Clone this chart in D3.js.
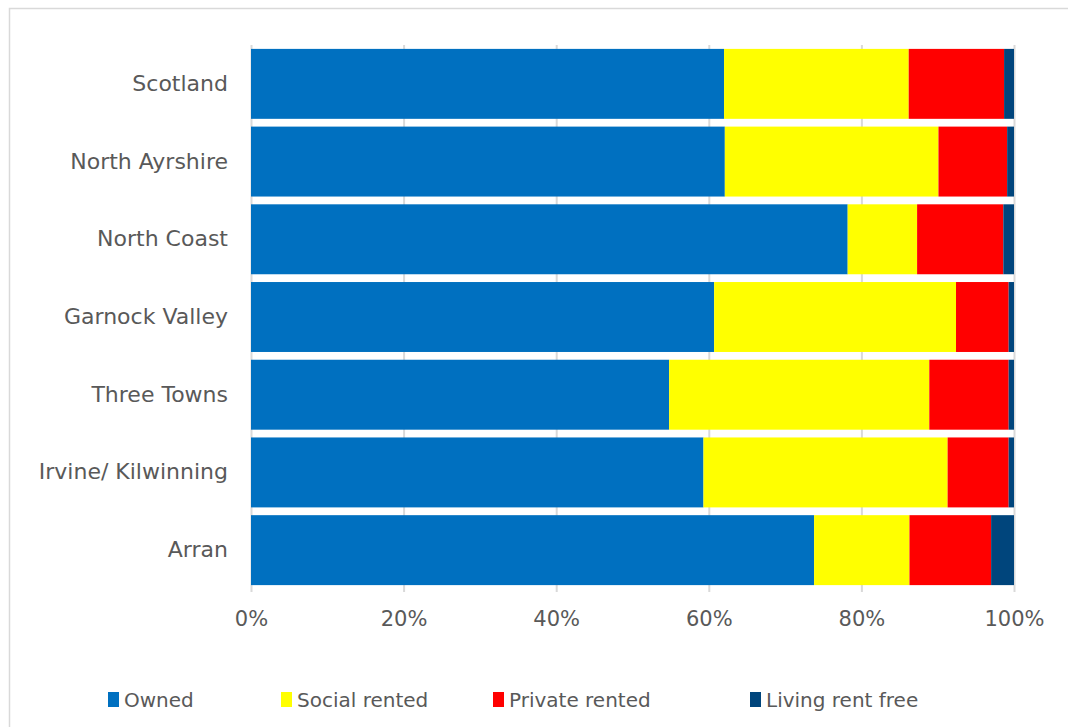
<!DOCTYPE html>
<html>
<head>
<meta charset="utf-8">
<script src="https://cdn.jsdelivr.net/npm/d3@7"></script>
<style>
  html, body { margin: 0; padding: 0; background: #fff; }
  svg { display: block; }
  text { font-family: "DejaVu Sans", sans-serif; fill: #595959; }
</style>
</head>
<body>
<svg id="chart" width="1068" height="727"></svg>
<script>
// Household tenure by area (% of households)
const areas = ["Scotland", "North Ayrshire", "North Coast", "Garnock Valley", "Three Towns", "Irvine/ Kilwinning", "Arran"];
const tenures = ["Owned", "Social rented", "Private rented", "Living rent free"];
const owned        = [62.0, 62.1, 78.2, 60.7, 54.8, 59.3, 73.8];
const socialRented = [24.2, 28.0,  9.1, 31.7, 34.1, 32.0, 12.5];
const privateRented= [12.5,  9.0, 11.3,  6.9, 10.4,  8.0, 10.7];
const rentFree     = [ 1.3,  0.9,  1.4,  0.7,  0.7,  0.7,  3.0];
const tickValues = [0, 0.2, 0.4, 0.6, 0.8, 1.0];
const colours = ["#0070C0", "#FFFF00", "#FF0000", "#00457C"];

const rows = areas.map((a, i) => {
  const vals = [owned[i], socialRented[i], privateRented[i], rentFree[i]];
  const total = d3.sum(vals);
  const r = { area: a };
  tenures.forEach((t, k) => r[t] = vals[k] / total);
  return r;
});

const svg = d3.select("#chart");

// outer chart frame
svg.append("rect")
  .attr("x", 9.5).attr("y", 8.5)
  .attr("width", 1100).attr("height", 800)
  .attr("fill", "none").attr("stroke", "#d9d9d9").attr("stroke-width", 1.5);

const plotLeft = 251, plotRight = 1014, plotTop = 45, plotBottom = 589;

const x = d3.scaleLinear().domain([0, 1]).range([plotLeft, plotRight]);
const y = d3.scaleBand().domain(areas).range([plotTop, plotBottom]).paddingInner(0.1).paddingOuter(0.05);

// vertical gridlines
svg.append("g").selectAll("line")
  .data(tickValues)
  .join("line")
  .attr("x1", d => x(d) + 0.5).attr("x2", d => x(d) + 0.5)
  .attr("y1", plotTop).attr("y2", plotBottom + 3)
  .attr("stroke", "#d9d9d9").attr("stroke-width", 2);

// stacked bars
const stack = d3.stack().keys(tenures);
const series = stack(rows);
svg.append("g").selectAll("g")
  .data(series)
  .join("g")
  .attr("fill", (d, i) => colours[i])
  .selectAll("rect")
  .data(d => d)
  .join("rect")
  .attr("x", d => x(d[0]))
  .attr("width", d => x(d[1]) - x(d[0]))
  .attr("y", d => y(d.data.area))
  .attr("height", y.bandwidth());

// category labels
const yAxis = svg.append("g")
  .attr("transform", `translate(${plotLeft},0)`)
  .call(d3.axisLeft(y).tickSize(0).tickPadding(23));
yAxis.select(".domain").remove();
yAxis.selectAll("text")
  .style("font-size", "22px")
  .style("font-family", "'DejaVu Sans', sans-serif")
  .attr("fill", "#595959");

// percentage axis labels
const xAxis = svg.append("g")
  .attr("transform", `translate(0,${plotBottom})`)
  .call(d3.axisBottom(x).tickValues(tickValues).tickFormat(d3.format(".0%")).tickSize(0).tickPadding(22));
xAxis.select(".domain").remove();
xAxis.selectAll("text")
  .style("font-size", "21px")
  .style("font-family", "'DejaVu Sans', sans-serif")
  .attr("fill", "#595959");

// legend
const legendX = [108, 281, 493, 750];
const legend = svg.append("g").selectAll("g")
  .data(tenures)
  .join("g")
  .attr("transform", (d, i) => `translate(${legendX[i]},700)`);
legend.append("rect")
  .attr("x", 0).attr("y", -8).attr("width", 11).attr("height", 15)
  .attr("fill", (d, i) => colours[i]);
legend.append("text")
  .attr("x", 16).attr("y", 0).attr("dy", "0.35em")
  .style("font-size", "20px")
  .text(d => d);
</script>
</body>
</html>
